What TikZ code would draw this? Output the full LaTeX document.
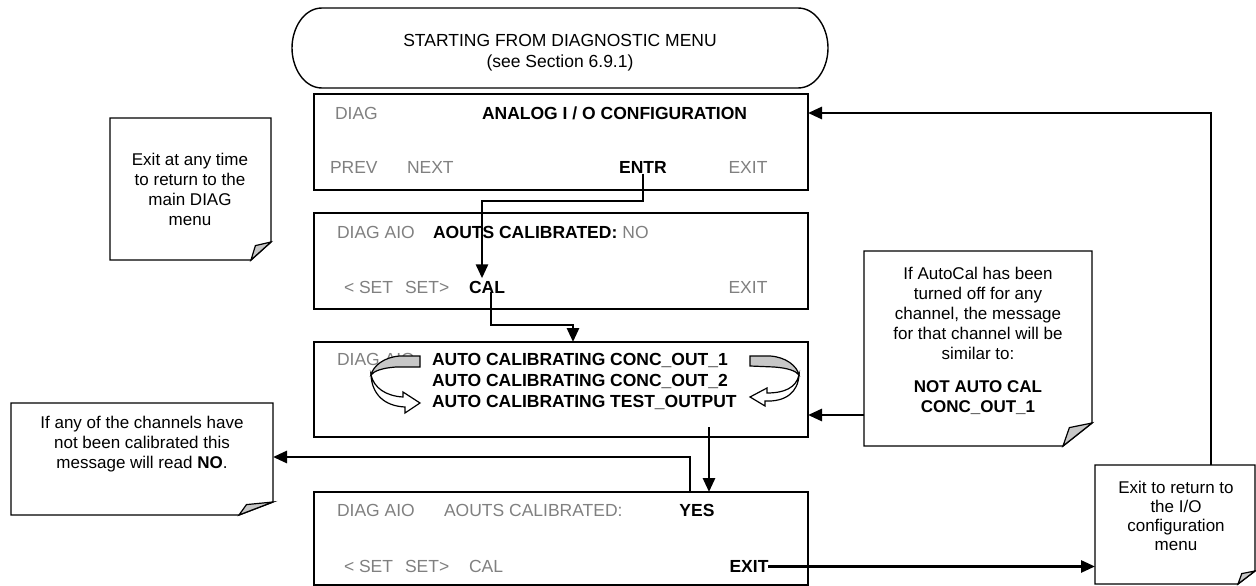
\documentclass[tikz,border=0pt]{standalone}
\usepackage{fontspec}
\setmainfont{Liberation Sans}
\usetikzlibrary{arrows.meta}
\definecolor{dimtxt}{gray}{0.5}
\definecolor{bandgray}{gray}{0.78}
\begin{document}
\begin{tikzpicture}[x=1pt,y=-1pt,
  every node/.style={inner sep=0pt, outer sep=0pt},
  mbox/.style={draw, line width=1.4pt, minimum width=494pt, minimum height=96pt},
  lbl/.style={font=\fontsize{17.5}{20}\selectfont, anchor=base west},
  lblb/.style={font=\fontsize{17.5}{20}\selectfont\bfseries, anchor=base west},
  lblc/.style={font=\fontsize{17.5}{20}\selectfont, anchor=base},
  lblcb/.style={font=\fontsize{17.5}{20}\selectfont\bfseries, anchor=base},
  dim/.style={text=dimtxt},
  notetxt/.style={font=\fontsize{17}{20}\selectfont, align=center},
  noteline/.style={line width=1.4pt, fill=white},
  fold/.style={line width=1.2pt, fill=bandgray},
  conn/.style={line width=2.8pt, -{Triangle[length=14pt,width=12pt]}},
  band/.style={line width=1.2pt, fill=bandgray},
  bandw/.style={line width=1.2pt, fill=white}]
\useasboundingbox (0,0) rectangle (1256,586);

% start terminal
\draw[line width=1.4pt] (322,8) -- (798,8) .. controls (816,8) and (828,28) .. (828,48)
  .. controls (828,68) and (816,88) .. (798,88) -- (322,88)
  .. controls (304,88) and (292,68) .. (292,48) .. controls (292,28) and (304,8) .. (322,8) -- cycle;
\node[notetxt, font=\fontsize{17.5}{21}\selectfont] (start) at (560,53) {STARTING FROM DIAGNOSTIC MENU\\(see Section 6.9.1)};

% menu boxes
\node[mbox] (box1) at (561,142) {};
\node[mbox] (box2) at (561,261) {};
\node[mbox, minimum height=95pt] (box3) at (561,389.5) {};
\node[mbox, minimum height=93pt] (box4) at (561,538.5) {};

% box1 texts
\node[lbl, dim] (b1diag) at (335,119.5) {DIAG};
\node[lblb] (b1title) at (482,119.5) {ANALOG I / O CONFIGURATION};
\node[lbl, dim] (b1prev) at (330,173.5) {PREV};
\node[lbl, dim] (b1next) at (407,173.5) {NEXT};
\node[lblcb] (entr) at (643,173.5) {ENTR};
\node[lblc, dim] (b1exit) at (748,173.5) {EXIT};

% box2 texts
\node[lbl, dim] (b2diag) at (337,238.5) {DIAG AIO};
\node[lblb] (b2title) at (433,238.5) {AOUTS CALIBRATED:};
\node[lbl, dim, anchor=base west] (b2no) at ([xshift=5pt]b2title.base east) {NO};
\node[lbl, dim] (b2set1) at (344,293.5) {< SET};
\node[lbl, dim] (b2set2) at (405,293.5) {SET>};
\node[lblcb] (cal) at (487,293.5) {CAL};
\node[lblc, dim] (b2exit) at (748,293.5) {EXIT};

% box3 texts
\node[lbl, dim] (b3diag) at (337,365.5) {DIAG AIO};
\node[lblb] (b3l1) at (432,365.5) {AUTO CALIBRATING CONC\_OUT\_1};
\node[lblb] (b3l2) at (432,386.5) {AUTO CALIBRATING CONC\_OUT\_2};
\node[lblb] (b3l3) at (432,407.5) {AUTO CALIBRATING TEST\_OUTPUT};

% circular arrows
\draw[band] (420,356) -- (420,367) -- (396,367) .. controls (382,368) and (374,371) .. (371,375)
  .. controls (373,366) and (384,357) .. (400,356) -- cycle;
\draw[bandw] (371,375) .. controls (374,388) and (386,396) .. (403,397) -- (403,392) -- (420,403)
  -- (405,413) -- (405,407) .. controls (384,406) and (372,394) .. (371,375) -- cycle;
\draw[band] (750,356) -- (750,366) -- (774,367) .. controls (788,368) and (796,371) .. (799,375)
  .. controls (797,366) and (786,357) .. (770,356) -- cycle;
\draw[bandw] (799,375) .. controls (796,388) and (784,393) .. (767,393) -- (767,388) -- (750,397)
  -- (765,406) -- (765,401) .. controls (786,402) and (798,392) .. (799,375) -- cycle;

% box4 texts
\node[lbl, dim] (b4diag) at (337,516.5) {DIAG AIO};
\node[lbl, dim] (b4title) at (444,516.5) {AOUTS CALIBRATED:};
\node[lblcb] (yes) at (697,516.5) {YES};
\node[lbl, dim] (b4set1) at (344,572.5) {< SET};
\node[lbl, dim] (b4set2) at (405,572.5) {SET>};
\node[lbl, dim] (b4cal) at (469,572.5) {CAL};
\node[lblcb] (exit4) at (749,572.5) {EXIT};

% notes (areas)
\node[minimum width=161pt, minimum height=142pt] (note1) at (190.5,189) {};
\node[minimum width=228pt, minimum height=195pt] (note2) at (978,348.5) {};
\node[minimum width=160pt, minimum height=119pt] (note3) at (1175,524.5) {};
\node[minimum width=262pt, minimum height=112pt] (note4) at (142,459) {};

\newcommand\dogear[3]{%
  \draw[noteline] (#1.north west) -- (#1.north east) -- ([yshift=#2pt]#1.south east)
    -- ([xshift=-#3pt]#1.south east) -- (#1.south west) -- cycle;
  \draw[fold] ([yshift=#2pt]#1.south east) -- ([xshift=-0.78*#3pt, yshift=0.8*#2pt]#1.south east)
    -- ([xshift=-#3pt]#1.south east) -- cycle;}
\dogear{note1}{18}{20}
\dogear{note2}{23}{29}
\dogear{note3}{13}{17}
\dogear{note4}{13}{34}

\node[notetxt] (n1txt) at (190,189) {Exit at any time\\to return to the\\main DIAG\\menu};
\node[notetxt] (n2txt) at (978,313) {If AutoCal has been\\turned off for any\\channel, the message\\for that channel will be\\similar to:};
\node[notetxt, font=\fontsize{17}{20}\selectfont\bfseries] (n2bold) at (978,398) {NOT AUTO CAL\\CONC\_OUT\_1};
\node[notetxt, font=\fontsize{17}{19}\selectfont] (n3txt) at (1176,516) {Exit to return to\\the I/O\\configuration\\menu};
\node[notetxt] (n4txt) at (142,444) {If any of the channels have\\not been calibrated this\\message will read \textbf{NO}.};

% connectors
\coordinate (c1) at (0,201);
\draw[conn] (entr.south) -- (entr.south |- c1) -| ([xshift=-5pt, yshift=3pt]cal.north);
\coordinate (c2) at (573,325);
\draw[conn] ([xshift=4pt, yshift=2pt]cal.south) |- (c2) -- (c2 |- box3.north);
\coordinate (c3) at (709,427);
\draw[conn] (c3) -- (c3 |- box4.north);
\coordinate (c4) at (690,457);
\draw[conn] (c4 |- box4.north) -- (c4) -- (c4 -| note4.east);
\coordinate (c5) at (900,415);
\draw[conn] (c5 -| note2.west) -- (c5 -| box3.east);
\draw[conn] (exit4.east) -- (exit4.east -| note3.west);
\coordinate (c6) at (1211,113);
\draw[conn] (c6 |- note3.north) -- (c6) -- (c6 -| box1.east);
\end{tikzpicture}
\end{document}
